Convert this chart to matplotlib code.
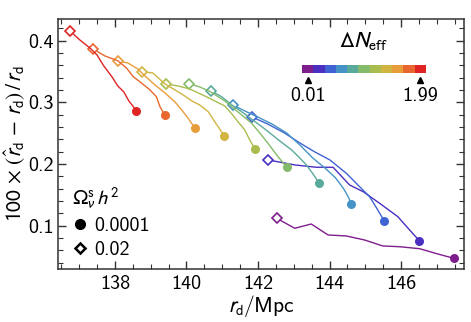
import numpy as np
import matplotlib
matplotlib.use("Agg")
import matplotlib.pyplot as plt
from matplotlib.colors import ListedColormap
from matplotlib.lines import Line2D

plt.rcParams['font.family'] = ['cmss10', 'DejaVu Sans']
plt.rcParams['mathtext.fontset'] = 'stixsans'
plt.rcParams['axes.unicode_minus'] = False
plt.rcParams['font.size'] = 14

# ---- data: one curve per Delta N_eff, from Omega h^2 = 0.02 (diamond) to 0.0001 (circle)
colors = ['#7e1e8c', '#4a2fc0', '#3f63d3', '#4593c6', '#5aaa9b', '#84bb6b',
          '#a9bd4e', '#d2b440', '#e89d3b', '#e8672f', '#e02424']

x_purple = [142.52, 143.03, 143.49, 143.96, 144.47, 144.98, 145.49, 145.96, 146.52, 147.03, 147.47]
y_purple = [0.1122, 0.0960, 0.1029, 0.0851, 0.0835, 0.0770, 0.0673, 0.0661, 0.0629, 0.0543, 0.0474]

x_indigo = [142.28, 143.03, 143.63, 144.10, 144.56, 144.94, 145.40, 145.91, 146.24, 146.51]
y_indigo = [0.2067, 0.1986, 0.1948, 0.1948, 0.1662, 0.1553, 0.1365, 0.1148, 0.0932, 0.0759]

x_blue = [141.83, 142.27, 142.74, 143.17, 143.59, 144.01, 144.47, 144.84, 145.12, 145.35, 145.53]
y_blue = [0.2763, 0.2650, 0.2504, 0.2342, 0.2196, 0.2067, 0.1851, 0.1634, 0.1472, 0.1256, 0.1078]

x_steel = [141.29, 141.63, 141.99, 142.39, 142.80, 143.17, 143.53, 143.87, 144.17, 144.40, 144.54, 144.61]
y_steel = [0.2958, 0.2861, 0.2763, 0.2650, 0.2504, 0.2310, 0.2099, 0.1937, 0.1776, 0.1597, 0.1451, 0.1349]

x_teal = [140.70, 140.99, 141.27, 141.63, 142.19, 142.61, 142.94, 143.17, 143.35, 143.54, 143.70]
y_teal = [0.3185, 0.3088, 0.2958, 0.2812, 0.2569, 0.2375, 0.2229, 0.2099, 0.1986, 0.1840, 0.1699]

x_green = [140.08, 140.37, 140.68, 141.07, 141.44, 141.82, 142.05, 142.28, 142.56, 142.80]
y_green = [0.3298, 0.3250, 0.3169, 0.3023, 0.2845, 0.2662, 0.2504, 0.2337, 0.2120, 0.1953]

x_ygreen = [139.42, 139.76, 140.09, 140.51, 140.85, 141.07, 141.27, 141.44, 141.63, 141.77, 141.92]
y_ygreen = [0.3298, 0.3266, 0.3217, 0.3104, 0.3006, 0.2942, 0.2812, 0.2687, 0.2553, 0.2391, 0.2240]

x_yellow = [138.76, 139.06, 139.40, 139.68, 139.91, 140.15, 140.37, 140.61, 140.79, 140.98, 141.06]
y_yellow = [0.3493, 0.3477, 0.3298, 0.3201, 0.3120, 0.3023, 0.2958, 0.2849, 0.2687, 0.2525, 0.2455]

x_ltorange = [138.09, 138.36, 138.64, 138.87, 139.12, 139.40, 139.68, 139.87, 140.04, 140.23]
y_ltorange = [0.3671, 0.3638, 0.3541, 0.3412, 0.3282, 0.3152, 0.3006, 0.2876, 0.2747, 0.2590]

x_orange = [137.39, 137.72, 138.09, 138.33, 138.51, 138.75, 138.98, 139.16, 139.26, 139.40]
y_orange = [0.3865, 0.3752, 0.3671, 0.3553, 0.3417, 0.3310, 0.3201, 0.3092, 0.2930, 0.2791]

x_red = [136.74, 137.02, 137.30, 137.50, 137.69, 137.92, 138.08, 138.25, 138.39, 138.50, 138.59]
y_red = [0.4157, 0.4011, 0.3882, 0.3768, 0.3590, 0.3412, 0.3266, 0.3169, 0.3023, 0.2942, 0.2866]

curves_x = [x_purple, x_indigo, x_blue, x_steel, x_teal, x_green, x_ygreen,
            x_yellow, x_ltorange, x_orange, x_red]
curves_y = [y_purple, y_indigo, y_blue, y_steel, y_teal, y_green, y_ygreen,
            y_yellow, y_ltorange, y_orange, y_red]

cbar_ticklabels = ['0.01', '1.99']
legend_labels = ['0.0001', '0.02']

fig = plt.figure(figsize=(4.71, 3.22), dpi=100)
ax = fig.add_axes([58/471, 1-269/322, 406/471, 250/322])

for xs, ys, c in zip(curves_x, curves_y, colors):
    ax.plot(xs, ys, '-', color=c, lw=1.0)
    ax.plot(xs[-1], ys[-1], 'o', color=c, ms=6.5, mec='none')
    ax.plot(xs[0], ys[0], 'D', mfc='white', mec=c, mew=1.2, ms=5.5)

ax.set_xlim(136.41, 147.76)
ax.set_ylim(0.030, 0.435)
ax.set_xticks([138, 140, 142, 144, 146])
ax.set_xticks(np.arange(136.5, 148, 0.5), minor=True)
ax.set_yticks([0.1, 0.2, 0.3, 0.4])
ax.set_yticks(np.arange(0.04, 0.44, 0.02), minor=True)
ax.set_yticklabels(['0.1', '0.2', '0.3', '0.4'])
ax.tick_params(which='both', direction='in', top=True, right=True, color='#333333')
ax.tick_params(which='major', length=6, width=1.0, labelsize=14.5)
ax.tick_params(axis='x', which='major', pad=4)
ax.tick_params(axis='y', which='major', pad=3)
ax.tick_params(which='minor', length=3.5, width=0.8)
for s in ax.spines.values():
    s.set_linewidth(1.1)
    s.set_color('#333333')

ax.set_xlabel(r'$r_{\rm d}$/Mpc', fontsize=15.5, labelpad=0)
ax.set_ylabel(r'$100\,\times\,\left(\hat{r}_{\rm d}\,-\,r_{\rm d}\right)\,/\,r_{\rm d}$',
              fontsize=15.5, labelpad=1)

# legend
handles = [Line2D([], [], ls='none', marker='o', color='black', ms=7),
           Line2D([], [], ls='none', marker='D', mfc='white', mec='black', mew=1.8, ms=5.5)]
leg = ax.legend(handles, legend_labels, loc='upper left', bbox_to_anchor=(0.035, 0.335),
                frameon=False, handlelength=0.8, handletextpad=0.3, labelspacing=0.3,
                borderpad=0, borderaxespad=0, fontsize=14.5,
                title=r'$\Omega^{\rm s}_{\nu}\,h^2$', title_fontsize=15, alignment='left')

# colorbar
cax = ax.inset_axes([0.601, 0.784, 0.305, 0.032])
cmap = ListedColormap(colors)
cax.imshow(np.arange(len(colors))[None, :], cmap=cmap, aspect='auto',
           extent=(0, len(colors), 0, 1), interpolation='nearest')
cax.set_xlim(0, len(colors))
cax.set_ylim(0, 1)
cax.axis('off')
tick_pos = [0.5, len(colors) - 0.5]
cax.plot(tick_pos, [-0.85, -0.85], ls='none', marker='^', color='black', ms=4, clip_on=False)
for p, lab in zip(tick_pos, cbar_ticklabels):
    cax.text(p, -1.7, lab, ha='center', va='top', fontsize=14.5)
cax.text(len(colors)/2, 2.6, r'$\Delta N_{\rm eff}$', ha='center', va='bottom', fontsize=16)

fig.savefig('out.png', dpi=100)
